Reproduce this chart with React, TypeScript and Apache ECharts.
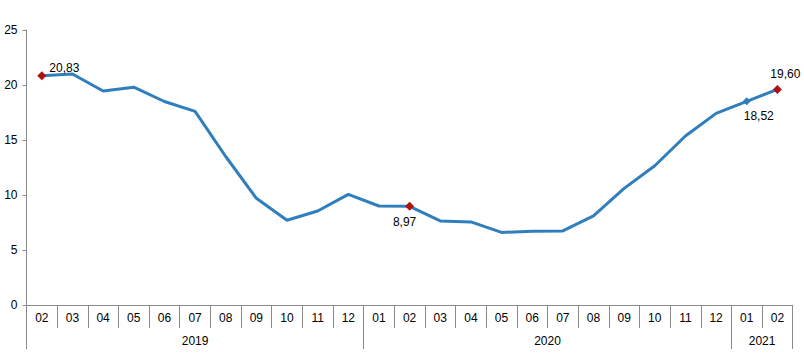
import React, { useEffect, useRef } from "react";
import * as echarts from "echarts";

const months = ["02","03","04","05","06","07","08","09","10","11","12","01","02","03","04","05","06","07","08","09","10","11","12","01","02"];
const values = [20.83,21.0,19.45,19.8,18.5,17.6,13.5,9.7,7.7,8.55,10.06,9.0,8.97,7.64,7.55,6.6,6.7,6.73,8.1,10.6,12.66,15.36,17.42,18.52,19.6];
const years = ["2019", "2020", "2021"];
const yearLabelIdx = [11, 34, 48];
const yearBoundaries = [0, 22, 46, 50];

const BLUE = "#2f7ebe";
const RED = "#b01010";
const GRAY = "#8a8a8a";
const FONT = "Liberation Sans";

export default function App() {
  const ref = useRef<HTMLDivElement>(null);
  useEffect(() => {
    const chart = echarts.init(ref.current!, null, { renderer: "svg" });
    const yearData: string[] = [];
    for (let i = 0; i <= 50; i++) {
      const k = yearLabelIdx.indexOf(i);
      yearData.push(k >= 0 ? years[k] : "");
    }
    const fmt = (v: number) => v.toFixed(2).replace(".", ",");
    const data = values.map((v, i) => {
      const base: any = { value: v };
      if (i === 0) {
        base.symbol = "diamond"; base.symbolSize = 9; base.itemStyle = { color: RED };
        base.label = { show: true, position: "right", offset: [-2, -8] };
      } else if (i === 12) {
        base.symbol = "diamond"; base.symbolSize = 9; base.itemStyle = { color: RED };
        base.label = { show: true, position: "bottom", offset: [-5, 0] };
      } else if (i === 24) {
        base.symbol = "diamond"; base.symbolSize = 9; base.itemStyle = { color: RED };
        base.label = { show: true, position: "top", offset: [8, 0] };
      } else if (i === 23) {
        base.symbol = "diamond"; base.symbolSize = 8; base.itemStyle = { color: BLUE };
        base.label = { show: true, position: "bottom", offset: [12, 0] };
      }
      return base;
    });
    chart.setOption({
      animation: false,
      textStyle: { fontFamily: FONT },
      grid: { left: 26.5, right: 11.3, top: 30, bottom: 57, containLabel: false },
      xAxis: [
        {
          type: "category",
          data: months,
          boundaryGap: true,
          axisLine: { show: true, lineStyle: { color: GRAY, width: 1 } },
          axisTick: { show: true, interval: 0, length: 23, lineStyle: { color: GRAY } },
          axisLabel: { interval: 0, margin: 7, color: "#000", fontSize: 12, fontFamily: FONT },
          splitLine: { show: false },
        },
        {
          type: "category",
          data: yearData,
          boundaryGap: false,
          position: "bottom",
          axisLine: { show: false },
          axisTick: {
            show: true,
            length: 44,
            interval: (index: number) => yearBoundaries.indexOf(index) >= 0,
            lineStyle: { color: GRAY },
          },
          axisLabel: { interval: 0, margin: 30, color: "#000", fontSize: 12, fontFamily: FONT },
          splitLine: { show: false },
        },
      ],
      yAxis: {
        type: "value",
        min: 0,
        max: 25,
        interval: 5,
        axisLine: { show: true, lineStyle: { color: GRAY } },
        axisTick: { show: true, length: 4, lineStyle: { color: GRAY } },
        axisLabel: { margin: 9, color: "#000", fontSize: 12, fontFamily: FONT },
        splitLine: { show: false },
      },
      series: [
        {
          type: "line",
          xAxisIndex: 0,
          data,
          symbol: "none",
          showSymbol: true,
          lineStyle: { color: BLUE, width: 3 },
          itemStyle: { color: BLUE },
          label: {
            color: "#000",
            fontSize: 12,
            fontFamily: FONT,
            formatter: (p: any) => fmt(p.value),
          },
          z: 3,
        },
      ],
    });
    return () => chart.dispose();
  }, []);
  return (
    <div
      ref={ref}
      style={{ position: "fixed", left: 0, top: 0, width: 804, height: 362, background: "#fff" }}
    />
  );
}
